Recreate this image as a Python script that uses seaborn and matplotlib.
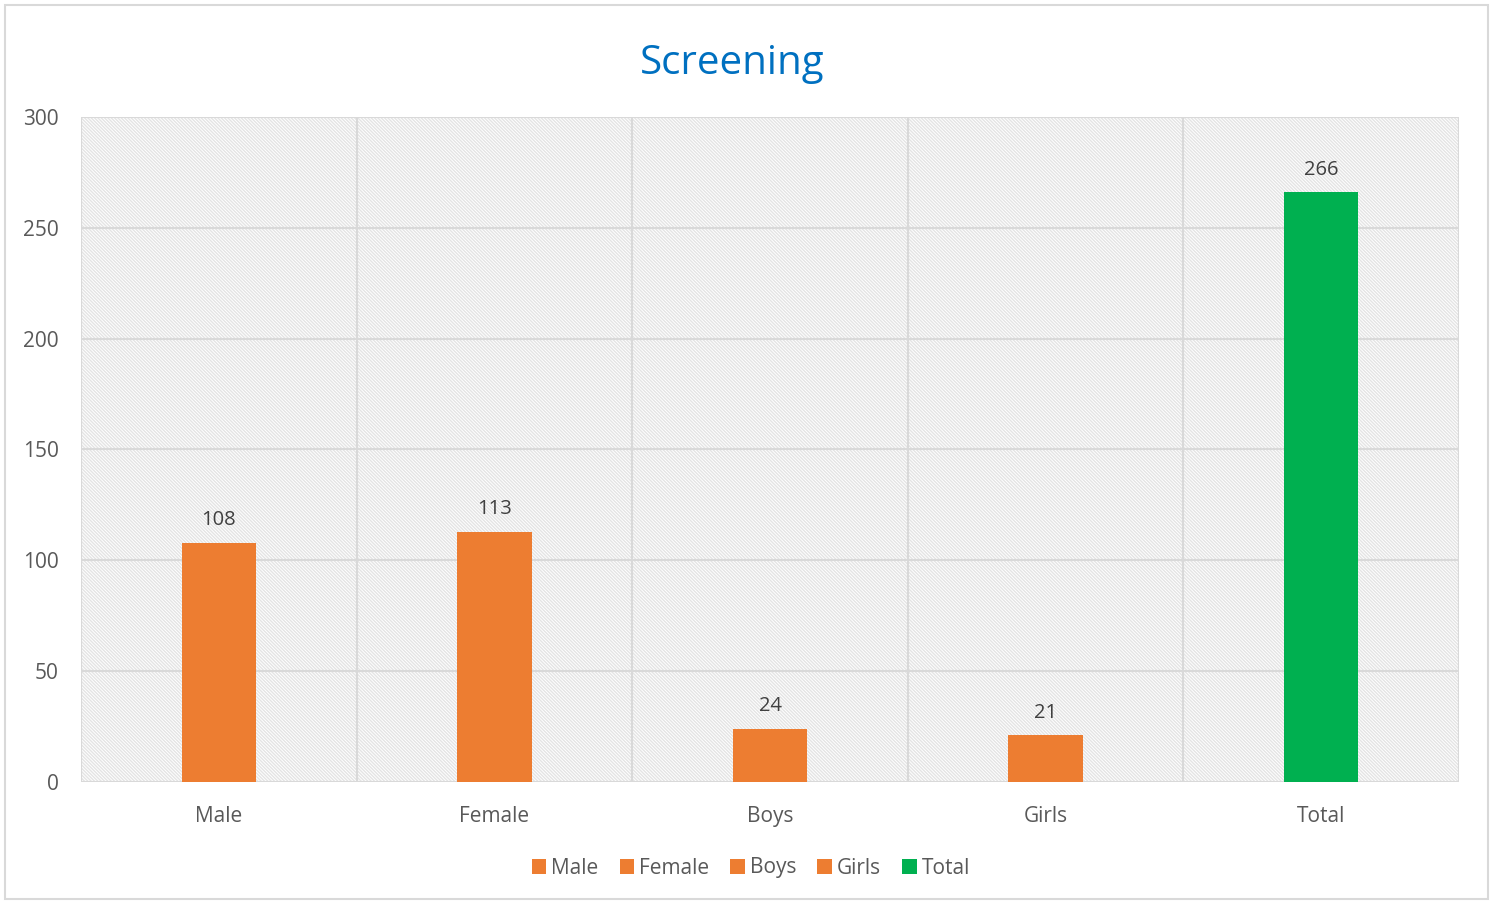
import matplotlib
matplotlib.use("Agg")
import matplotlib.pyplot as plt
import seaborn as sns
import pandas as pd
from matplotlib.patches import Rectangle, Patch

categories = ["Male", "Female", "Boys", "Girls", "Total"]
values = [108, 113, 24, 21, 266]
colors = ["#ED7D31", "#ED7D31", "#ED7D31", "#ED7D31", "#00B050"]
yticks = [0, 50, 100, 150, 200, 250, 300]
title = "Screening"

sns.set_theme(style="white")
plt.rcParams["font.family"] = ["Open Sans", "DejaVu Sans"]
plt.rcParams["hatch.linewidth"] = 1.0

df = pd.DataFrame({"cat": categories, "val": values})

fig = plt.figure(figsize=(14.95, 9.02), dpi=100)
ax = fig.add_axes([81/1495, 1-782/902, (1459-81)/1495, (782-117)/902])

# hatched background
bg = Rectangle((0, 0), 1, 1, transform=ax.transAxes, facecolor="white",
               edgecolor="#e4e4e4", hatch="\\" * 10, linewidth=0, zorder=0)
ax.add_patch(bg)

sns.barplot(data=df, x="cat", y="val", hue="cat", palette=colors,
            order=categories, hue_order=categories, dodge=False,
            width=0.27, legend=False, ax=ax, zorder=3, saturation=1,
            linewidth=0, edgecolor="none")

ax.set_ylim(0, 300)
ax.set_xlim(-0.5, len(categories) - 0.5)
ax.set_yticks(yticks)
ax.set_yticklabels([str(t) for t in yticks])
for y in yticks:
    ax.axhline(y, color="#d9d9d9", lw=1.5, zorder=1)
for i in range(len(categories) + 1):
    ax.axvline(i - 0.5, color="#d9d9d9", lw=1.5, zorder=1)

for sp in ax.spines.values():
    sp.set_visible(False)

ax.set_xlabel("")
ax.set_ylabel("")
ax.tick_params(axis="both", length=0, labelsize=15, colors="#595959")
ax.tick_params(axis="y", pad=16)
ax.tick_params(axis="x", pad=17)

for i, v in enumerate(values):
    ax.annotate(str(v), (i, v), xytext=(0, 9), textcoords="offset points",
                ha="center", va="bottom", fontsize=14.5, color="#404040")

fig.text(732/1495, 1-64/902, title, ha="center", va="center",
         fontsize=29, color="#0070C0")

handles = [Patch(facecolor=c, edgecolor="none") for c in colors]
fig.legend(handles, categories, loc="center", bbox_to_anchor=(751/1495, 1-868/902),
           ncol=5, frameon=False, fontsize=15, handlelength=0.7, handleheight=0.7,
           handletextpad=0.25, columnspacing=1.0, labelcolor="#595959")

fig.patches.append(Rectangle((5/1495, 0.003), 1483/1495, 1-5/902-0.003,
                             transform=fig.transFigure, fill=False,
                             edgecolor="#d9d9d9", lw=1.5))

fig.savefig("out.png", dpi=100)
